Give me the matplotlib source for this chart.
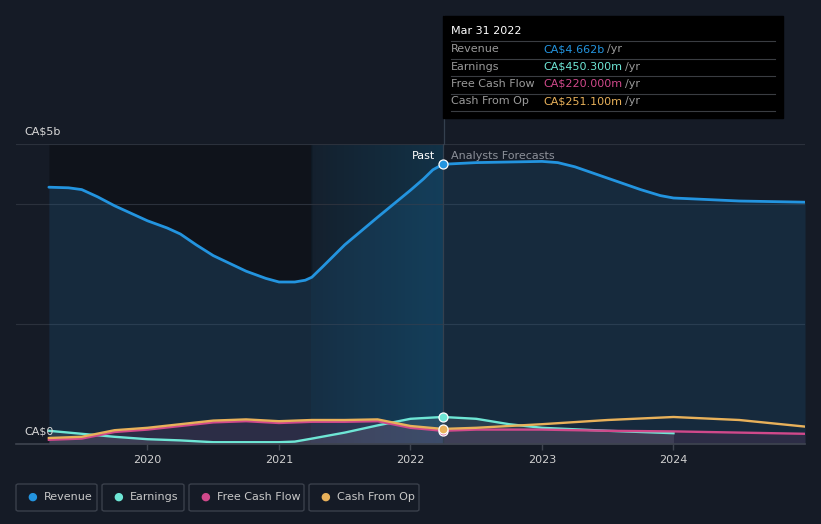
import numpy as np
import matplotlib
matplotlib.use("Agg")
import matplotlib.pyplot as plt
from matplotlib.patches import Rectangle, FancyBboxPatch

# values in CA$ billions, x in decimal years
rev_x = [2019.25, 2019.4, 2019.5, 2019.62, 2019.75, 2020.0, 2020.15, 2020.25, 2020.37, 2020.5,
         2020.75, 2020.9, 2021.0, 2021.12, 2021.2, 2021.25, 2021.33, 2021.5, 2021.75, 2022.0,
         2022.1, 2022.17, 2022.246, 2022.5, 2022.75, 2023.0, 2023.12, 2023.25, 2023.5,
         2023.75, 2023.9, 2024.0, 2024.5, 2025.0]
rev_y = [4.28, 4.27, 4.24, 4.12, 3.97, 3.72, 3.60, 3.50, 3.32, 3.14,
         2.88, 2.76, 2.70, 2.70, 2.73, 2.78, 2.95, 3.32, 3.78, 4.23,
         4.42, 4.57, 4.662, 4.69, 4.70, 4.71, 4.69, 4.62, 4.43,
         4.24, 4.14, 4.10, 4.05, 4.03]

earn_x = [2019.25, 2019.5, 2019.75, 2020.0, 2020.25, 2020.5, 2020.75, 2021.0, 2021.12, 2021.25,
          2021.5, 2021.75, 2022.0, 2022.246, 2022.5, 2022.75, 2023.0, 2023.5, 2024.0]
earn_y = [0.22, 0.17, 0.12, 0.08, 0.06, 0.03, 0.03, 0.03, 0.04, 0.09,
          0.19, 0.31, 0.42, 0.4503, 0.42, 0.33, 0.27, 0.22, 0.18]

cf_x = [2019.25, 2019.5, 2019.75, 2020.0, 2020.25, 2020.5, 2020.75, 2021.0, 2021.25, 2021.5,
        2021.75, 2022.0, 2022.246, 2022.5, 2023.0, 2023.5, 2024.0, 2024.5, 2025.0]
fcf_y = [0.07, 0.09, 0.20, 0.24, 0.30, 0.36, 0.38, 0.35, 0.37, 0.37,
         0.38, 0.27, 0.22, 0.24, 0.24, 0.22, 0.21, 0.19, 0.17]
cfo_y = [0.10, 0.12, 0.23, 0.27, 0.33, 0.39, 0.41, 0.38, 0.40, 0.40,
         0.41, 0.30, 0.2511, 0.27, 0.33, 0.40, 0.45, 0.40, 0.29]

years = [2020, 2021, 2022, 2023, 2024]
now = 2022.246
past_start = 2021.246

BG = "#151b26"
C_REV = "#2394df"
C_EARN = "#6ee6d5"
C_FCF = "#d0498b"
C_CFO = "#e8b15a"

W, H = 821, 524
fig = plt.figure(figsize=(W / 100, H / 100), dpi=100, facecolor=BG)


def fx(px):
    return px / W


def fy(py):
    return 1 - py / H


ax = fig.add_axes([fx(16), fy(444), fx(805) - fx(16), fy(144) - fy(444)])
ax.set_facecolor(BG)
ax.set_xlim(2019.0, 2025.0)
ax.set_ylim(0, 5)
for s in ax.spines.values():
    s.set_visible(False)

# grid lines
for g in [2, 4, 5]:
    ax.axhline(g, color="#2b313c", lw=0.8, zorder=1)
ax.axhline(0, color="#3e444f", lw=1.2, zorder=6, clip_on=False)

# dark overlay above revenue on older past
rx = np.array(rev_x)
ry = np.array(rev_y)
m = rx <= past_start + 0.01
ax.fill_between(rx[m], ry[m], 5, color="black", alpha=0.28, lw=0, zorder=0.5)

# teal gradient highlight for last year
grad = np.linspace(0, 1, 256).reshape(1, -1)
rgba = np.zeros((1, 256, 4))
rgba[..., 0] = 0.04
rgba[..., 1] = 0.42
rgba[..., 2] = 0.60
rgba[..., 3] = 0.07 + 0.22 * grad
ax.imshow(rgba, extent=[past_start, now, 0, 5], aspect="auto", zorder=0.8, interpolation="bilinear")

# areas
ax.fill_between(rev_x, rev_y, 0, color=C_REV, alpha=0.13, lw=0, zorder=1.5)
ax.fill_between(earn_x, earn_y, 0, color="#8a9aa6", alpha=0.18, lw=0, zorder=1.6)
ax.fill_between(cf_x, fcf_y, 0, color=C_FCF, alpha=0.12, lw=0, zorder=1.6)

ax.plot(rev_x, rev_y, color=C_REV, lw=2.0, zorder=4, solid_capstyle="round", solid_joinstyle="round")
ax.plot(earn_x, earn_y, color=C_EARN, lw=1.7, zorder=3.5, solid_joinstyle="round")
ax.plot(cf_x, fcf_y, color=C_FCF, lw=1.7, zorder=3.6, solid_joinstyle="round")
ax.plot(cf_x, cfo_y, color=C_CFO, lw=1.7, zorder=3.7, solid_joinstyle="round")

# markers at the current date
for xs, ys, c in [(rev_x, rev_y, C_REV), (earn_x, earn_y, C_EARN), (cf_x, fcf_y, C_FCF), (cf_x, cfo_y, C_CFO)]:
    i = xs.index(now)
    ax.plot(xs[i], ys[i], "o", ms=6.5, color=c, mec="white", mew=0.9, zorder=7, clip_on=False)

# vertical line at now
ax.axvline(now, ymin=0, ymax=1, color="#34404e", lw=0.9, zorder=5)
fig.add_artist(plt.Line2D([fx(443.5), fx(443.5)], [fy(144), fy(16)], color="#34404e", lw=0.9))

ax.set_xticks(years)
ax.set_xticklabels([str(y) for y in years])
ax.tick_params(axis="x", colors="#3e444f", labelcolor="#d0d0d0", labelsize=8, length=4, width=1, pad=4)
ax.set_yticks([])

ax.text(now - 0.06, 4.8, "Past", color="white", fontsize=8, ha="right", va="center", zorder=8)
ax.text(now + 0.06, 4.8, "Analysts Forecasts", color="#8c9099", fontsize=8, ha="left", va="center", zorder=8)

fig.text(fx(24), fy(131), "CA$5b", color="#d8d8d8", fontsize=8, va="center")
fig.text(fx(24), fy(431), "CA$0", color="#d8d8d8", fontsize=8, va="center", zorder=9)

# tooltip box
fig.patches.append(Rectangle((fx(443), fy(118)), fx(783) - fx(443), fy(16) - fy(118),
                             transform=fig.transFigure, color="black", zorder=10))
fig.text(fx(451), fy(31), "Mar 31 2022", color="white", fontsize=8, va="center", zorder=11)
rows = [("Revenue", "CA$4.662b", C_REV), ("Earnings", "CA$450.300m", C_EARN),
        ("Free Cash Flow", "CA$220.000m", C_FCF), ("Cash From Op", "CA$251.100m", C_CFO)]
for k in range(5):
    yl = 41 + k * 17.5
    fig.add_artist(plt.Line2D([fx(451), fx(775)], [fy(yl), fy(yl)], color="#3a3d42", lw=0.8, zorder=11))
for k, (lab, val, c) in enumerate(rows):
    yy = 49 + k * 17.5
    fig.text(fx(451), fy(yy), lab, color="#9a9a9a", fontsize=8, va="center", zorder=11)
    t = fig.text(fx(543), fy(yy), val, color=c, fontsize=8, va="center", zorder=11)
    fig.canvas.draw()
    bb = t.get_window_extent()
    fig.text(bb.x1 / W + fx(3), fy(yy), "/yr", color="#9a9a9a", fontsize=8, va="center", zorder=11)

# legend boxes
legend = [("Revenue", C_REV, 16, 97), ("Earnings", C_EARN, 102, 184),
          ("Free Cash Flow", C_FCF, 189, 304), ("Cash From Op", C_CFO, 309, 419)]
for lab, c, x0, x1 in legend:
    fig.patches.append(FancyBboxPatch((fx(x0), fy(511)), fx(x1) - fx(x0), fy(484) - fy(511),
                                      boxstyle="round,pad=0,rounding_size=0.003",
                                      transform=fig.transFigure, fc="none", ec="#3a404b", lw=1))
    fig.text(fx(x0 + 16), fy(497), "\u25cf", color=c, fontsize=8, ha="center", va="center")
    fig.text(fx(x0 + 28), fy(497), lab, color="#c8c8c8", fontsize=8, va="center")

fig.savefig("out.png", dpi=100, facecolor=BG)
